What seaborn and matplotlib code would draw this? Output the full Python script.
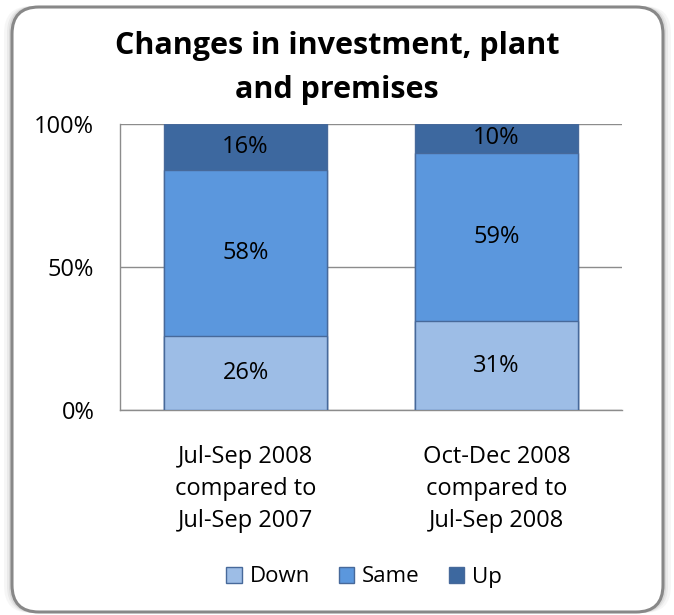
import matplotlib
matplotlib.use("Agg")
import matplotlib.pyplot as plt
import seaborn as sns
import pandas as pd
from matplotlib.patches import FancyBboxPatch, Patch

categories = ["Jul-Sep 2008\ncompared to\nJul-Sep 2007", "Oct-Dec 2008\ncompared to\nJul-Sep 2008"]
down = [26, 31]
same = [58, 59]
up = [16, 10]
series = ["Down", "Same", "Up"]
colors = {"Down": "#9dbde6", "Same": "#5b97dd", "Up": "#3d689f"}

sns.set_theme(style="white")
plt.rcParams["font.family"] = ["Open Sans", "DejaVu Sans"]
plt.rcParams["text.color"] = "black"
plt.rcParams["xtick.color"] = "black"
plt.rcParams["ytick.color"] = "black"

W, H = 674, 615
fig = plt.figure(figsize=(W / 100, H / 100), dpi=100)

# shadow layers + rounded frame
x0, y0, x1, y1 = 12, 7, 663, 612
for k, a in [(8, 0.05), (5, 0.08), (3, 0.12)]:
    sh = FancyBboxPatch(((x0 - k) / W, 1 - (y1 + 1) / H), (x1 - x0 + 2 * k) / W, (y1 - y0 + 2) / H,
                        boxstyle="round,pad=0,rounding_size=0.04", transform=fig.transFigure,
                        facecolor="#606060", edgecolor="none", alpha=a, mutation_aspect=W / H, zorder=-10)
    fig.patches.append(sh)
frame = FancyBboxPatch((x0 / W, 1 - y1 / H), (x1 - x0) / W, (y1 - y0) / H,
                       boxstyle="round,pad=0,rounding_size=0.04",
                       transform=fig.transFigure, facecolor="white", edgecolor="#888888", linewidth=2.2,
                       mutation_aspect=W / H, zorder=-5)
fig.patches.append(frame)

ax = fig.add_axes([120 / W, 1 - 410 / H, 502 / W, 286 / H])
ax.set_zorder(2)
ax.set_facecolor("none")

df = pd.DataFrame({"cat": categories, "Down": down, "Same": same, "Up": up})
df["c_down"] = df["Down"]
df["c_same"] = df["Down"] + df["Same"]
df["c_up"] = df["Down"] + df["Same"] + df["Up"]

for col, name in [("c_up", "Up"), ("c_same", "Same"), ("c_down", "Down")]:
    sns.barplot(data=df, x="cat", y=col, color=colors[name], width=0.65, ax=ax,
                edgecolor="#47699a", linewidth=1.0, saturation=1, zorder=3)

for i in range(len(categories)):
    bottoms = [0, down[i], down[i] + same[i]]
    for b, v in zip(bottoms, [down[i], same[i], up[i]]):
        ax.text(i, b + v / 2, f"{v}%", ha="center", va="center", fontsize=17, color="black", zorder=5)

ax.set_ylim(0, 100)
ax.set_xlim(-0.5, 1.5)
ax.set_yticks([0, 50, 100])
ax.set_yticklabels(["0%", "50%", "100%"], fontsize=17)
ax.set_xticks([0, 1])
ax.set_xticklabels(categories, fontsize=17, linespacing=1.45)
ax.set_xlabel("")
ax.set_ylabel("")
ax.yaxis.grid(True, color="#8c8c8c", linewidth=1.0, zorder=0)
ax.set_axisbelow(True)
for s in ["top", "right"]:
    ax.spines[s].set_visible(False)
for s in ["left", "bottom"]:
    ax.spines[s].set_color("#8c8c8c")
    ax.spines[s].set_linewidth(1.0)
ax.tick_params(axis="y", length=0, pad=18.5)
ax.tick_params(axis="x", length=0, pad=25)

fig.text(0.5, 1 - 68 / H, "Changes in investment, plant\nand premises", ha="center", va="center",
         fontsize=22, fontweight="bold", linespacing=1.58, color="black")

handles = [Patch(facecolor=colors[s], edgecolor="#47699a", label=s) for s in series]
fig.legend(handles=handles, loc="center", bbox_to_anchor=(364 / W, 1 - 577 / H), ncol=3, frameon=False,
           fontsize=16, handlelength=0.7, handleheight=0.7, handletextpad=0.35, columnspacing=1.3)

fig.savefig("out.png", dpi=100)
